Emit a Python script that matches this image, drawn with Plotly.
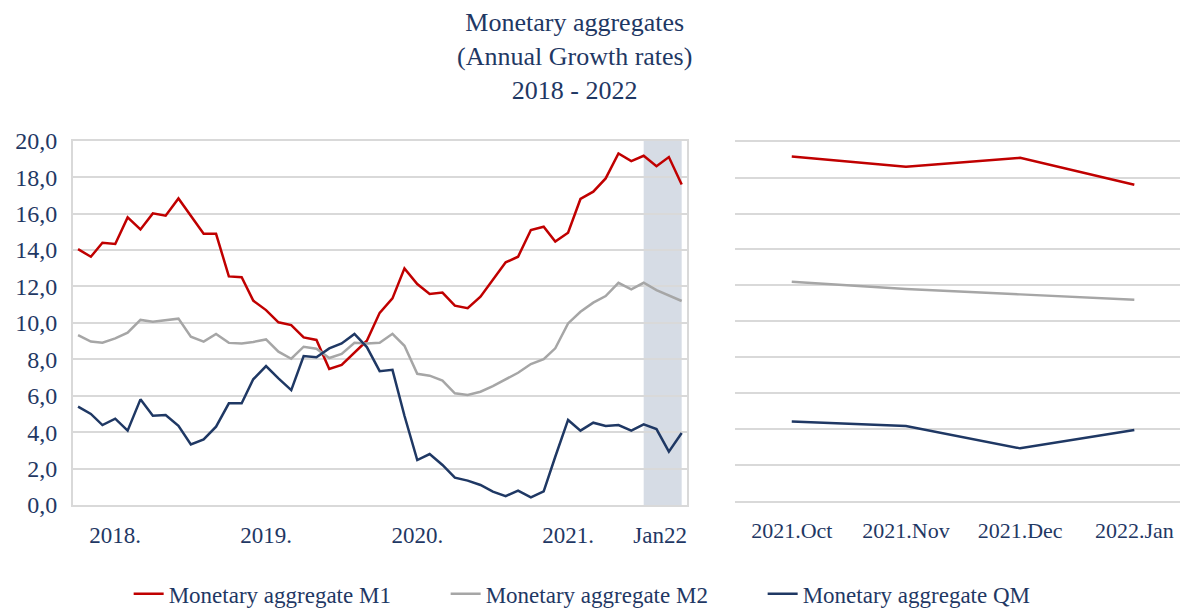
import pandas as pd
import plotly.graph_objects as go

# ---------------- data ----------------
months = pd.date_range("2018-01-01", periods=49, freq="MS")

m1 = [14.05, 13.63, 14.40, 14.33, 15.79, 15.13, 16.01, 15.88, 16.83, 15.86, 14.89, 14.89,
      12.55, 12.50, 11.22, 10.70, 10.03, 9.88, 9.20, 9.06, 7.47, 7.69, 8.36, 9.02,
      10.55, 11.34, 12.99, 12.13, 11.58, 11.66, 10.94, 10.80, 11.44, 12.39, 13.32, 13.63,
      15.10, 15.28, 14.46, 14.95, 16.80, 17.20, 17.93, 19.30, 18.88, 19.17, 18.60, 19.10,
      17.60]
m2 = [9.33, 8.97, 8.91, 9.15, 9.46, 10.16, 10.06, 10.16, 10.23, 9.24, 8.97, 9.39,
      8.90, 8.87, 8.95, 9.09, 8.42, 8.03, 8.69, 8.58, 8.07, 8.29, 8.91, 8.87,
      8.91, 9.40, 8.74, 7.20, 7.10, 6.83, 6.13, 6.04, 6.22, 6.53, 6.90, 7.26,
      7.74, 8.00, 8.60, 9.97, 10.61, 11.11, 11.47, 12.20, 11.84, 12.20, 11.80, 11.50,
      11.20]
qm = [5.40, 5.00, 4.39, 4.74, 4.08, 5.80, 4.90, 4.94, 4.35, 3.33, 3.60, 4.30,
      5.58, 5.58, 6.90, 7.63, 6.95, 6.31, 8.18, 8.11, 8.60, 8.87, 9.39, 8.67,
      7.35, 7.42, 4.90, 2.47, 2.80, 2.20, 1.50, 1.34, 1.10, 0.73, 0.49, 0.79,
      0.42, 0.75, 2.65, 4.67, 4.08, 4.52, 4.34, 4.39, 4.08, 4.43, 4.17, 2.93,
      3.95]

series_names = ["Monetary aggregate M1", "Monetary aggregate M2", "Monetary aggregate QM"]

zoom_labels = ["2021.Oct", "2021.Nov", "2021.Dec", "2022.Jan"]
zoom_m1 = m1[-4:]
zoom_m2 = m2[-4:]
zoom_qm = qm[-4:]

year_tick_vals = ["2018-04-01", "2019-04-01", "2020-04-01", "2021-04-01", "2021-11-10"]
year_tick_text = ["2018.", "2019.", "2020.", "2021.", "Jan22"]
y_ticks = [0, 2, 4, 6, 8, 10, 12, 14, 16, 18, 20]

shade_start = months[45]
shade_end = months[48]

title_text = "Monetary aggregates<br>(Annual Growth rates)<br>2018 - 2022"

# ---------------- style ----------------
NAVY = "#1F3864"
RED = "#C00000"
GRAY = "#A6A6A6"
GRID = "#D9D9D9"
SHADE = "#D6DCE5"
FONT = "Liberation Serif"
LW = 2.5

fig = go.Figure()

colors = [RED, GRAY, NAVY]
left_data = [m1, m2, qm]
right_data = [zoom_m1, zoom_m2, zoom_qm]

for name, col, ys in zip(series_names, colors, left_data):
    fig.add_trace(go.Scatter(x=months, y=ys, name=name, mode="lines",
                             line=dict(color=col, width=LW),
                             xaxis="x", yaxis="y"))
for name, col, ys in zip(series_names, colors, right_data):
    fig.add_trace(go.Scatter(x=zoom_labels, y=ys, name=name, mode="lines",
                             line=dict(color=col, width=LW), showlegend=False,
                             xaxis="x2", yaxis="y2"))

fig.add_shape(type="rect", xref="x", yref="y domain", x0=shade_start, x1=shade_end,
              y0=0, y1=1, fillcolor=SHADE, line_width=0, layer="below")

fig.add_annotation(text=title_text, xref="paper", yref="paper", x=0.487, y=0.99,
                   xanchor="center", yanchor="top", showarrow=False, align="center",
                   font=dict(family=FONT, size=26, color=NAVY))

yfont = dict(family=FONT, size=24, color=NAVY)
xfont = dict(family=FONT, size=23, color=NAVY)
x2font = dict(family=FONT, size=22, color=NAVY)

fig.update_layout(
    template="none",
    width=1180, height=608,
    margin=dict(l=0, r=0, t=0, b=0, autoexpand=False),
    paper_bgcolor="white", plot_bgcolor="white",
    separators=", ",
    font=dict(family=FONT, color=NAVY),
    xaxis=dict(domain=[0.0616, 0.5819], type="date",
               range=["2017-12-19", "2022-01-13"],
               tickvals=year_tick_vals, ticktext=year_tick_text,
               showgrid=False, showline=True, mirror=True, linecolor=GRID, linewidth=1.5,
               ticks="", tickfont=xfont, ticklabelstandoff=9, anchor="y",
               automargin=False, zeroline=False),
    yaxis=dict(domain=[0.1694, 0.7686], range=[0, 20], tickvals=y_ticks, tickformat=".1f",
               showgrid=True, gridcolor=GRID, gridwidth=1.5, zeroline=False,
               showline=True, mirror=True, linecolor=GRID, linewidth=1.5,
               ticks="", tickfont=yfont, ticklabelstandoff=9, anchor="x",
               automargin=False),
    xaxis2=dict(domain=[0.6226, 1.0], type="category", range=[-0.5, 3.4],
                showgrid=False, showline=True, mirror=True, linecolor=GRID, linewidth=1.5,
                zeroline=False, ticks="",
                tickfont=x2font, ticklabelstandoff=9, anchor="y2", automargin=False),
    yaxis2=dict(domain=[0.176, 0.767], range=[0, 20], tickvals=y_ticks,
                showgrid=True, gridcolor=GRID, gridwidth=1.5, zeroline=False,
                showline=False, showticklabels=False, ticks="", anchor="x2",
                automargin=False),
    legend=dict(orientation="h", x=0.512, xanchor="center", y=-0.012, yanchor="bottom",
                font=dict(family=FONT, size=23, color=NAVY), bgcolor="rgba(0,0,0,0)",
                entrywidth=272, entrywidthmode="pixels"),
    showlegend=True,
)

fig.write_html("out.html", config={"displayModeBar": False},
               post_script="document.body.style.margin='0';")
